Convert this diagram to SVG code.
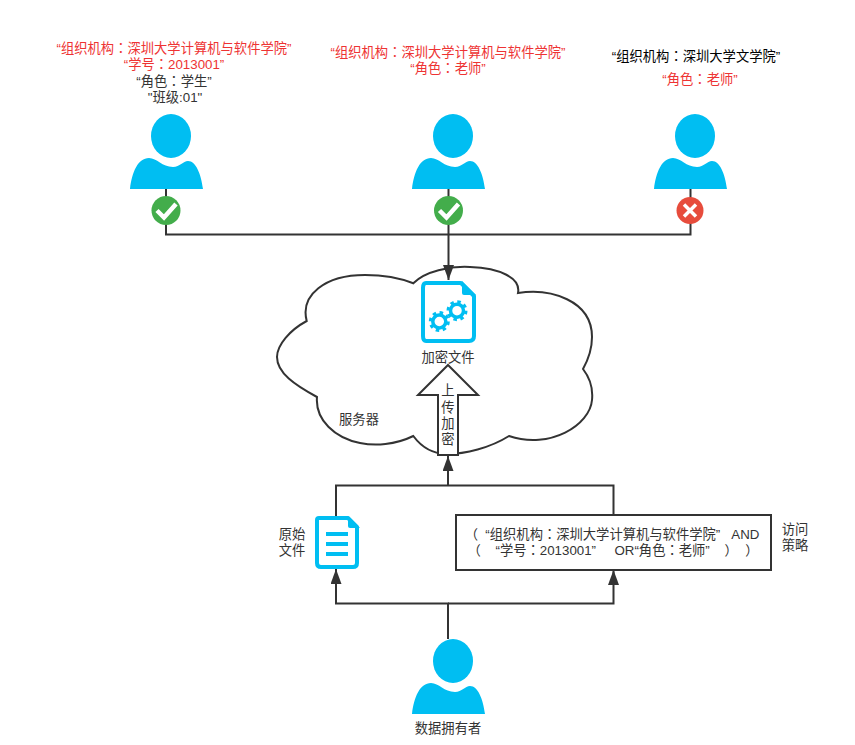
<svg xmlns="http://www.w3.org/2000/svg" width="855" height="745" viewBox="0 0 855 745">
<style>
text{font-family:"Liberation Sans","Noto Sans CJK TC",sans-serif;font-size:13.300px;fill:#333;text-anchor:middle;white-space:pre}
.red{fill:#ee3333}
.blk{fill:#000}
.line{fill:none;stroke:#333;stroke-width:2}
.doc{fill:#fff;stroke:#00bef2;stroke-width:4;stroke-linejoin:round}
.fold{fill:#00bef2}
.ic{fill:#00bef2}
.chk{fill:none;stroke:#fff;stroke-width:4.500}
</style>
<defs>
<g id="person">
<ellipse cx="41" cy="-53" rx="20" ry="22" class="ic"/>
<path class="ic" d="M0 0C2-17 8-31 19-31C27-31 32-22 43-22C50-22 53-28 58-28C66-28 71-15 73 0Z"/>
</g>
<marker id="ah" markerUnits="userSpaceOnUse" markerWidth="15" markerHeight="11" refX="15" refY="5.500" viewBox="0 0 15 11" orient="auto"><path d="M0 0L15 5.500L0 11Z" fill="#333"/></marker>
</defs>
<g id="cloud">
<path fill="#fff" stroke="#333" stroke-width="2" d="M306.700 321C300 295 325 275 365 275C385 275 400 278 413.300 283.300C425 271 450 266 470 267C500 268 521 278 518 293C550 288 592 300 592 337C592 350 588 360 583 369C590 378 593 390 592 400C590 425 550 450 509 436C490 448 465 454 447 454C430 454 420 445 413.300 436C395 445 375 446 360 443C335 438 315 420 317 397C295 385 277 373 277 357C277 345 290 330 306.700 321Z"/>
<text x="359" y="424">服务器</text>
</g>
<g id="connectors">
<path class="line" d="M166 189V234.500H690.500V189"/>
<path class="line" d="M448.500 189V280" marker-end="url(#ah)"/>
<path class="line" d="M336 516V485.500H613.500V516"/>
<path class="line" d="M448 485.500V456" marker-end="url(#ah)"/>
<path class="line" d="M448 639V603.500H336V569" marker-end="url(#ah)"/>
<path class="line" d="M448 603.500H613.500V570" marker-end="url(#ah)"/>
</g>
<g id="user-1"><use href="#person" x="130" y="189"/>
<text class="red" x="174" y="53">“组织机构：深圳大学计算机与软件学院”</text>
<text class="red" x="174" y="69">“学号：2013001”</text>
<text x="174" y="86">“角色：学生”</text>
<text x="175" y="102">"班级:01"</text>
</g>
<g id="check-1"><circle cx="166" cy="210.500" r="14.500" fill="#43ad4b"/><path class="chk" d="M157 210.500L164 217.500L176 204"/></g>
<g id="user-2"><use href="#person" x="412" y="189"/>
<text class="red" x="448" y="57">“组织机构：深圳大学计算机与软件学院”</text>
<text class="red" x="448" y="73">“角色：老师”</text>
</g>
<g id="check-2"><circle cx="448.500" cy="210.500" r="14.500" fill="#43ad4b"/><path class="chk" d="M439.500 210.500L446.500 217.500L458.500 204"/></g>
<g id="user-3"><use href="#person" x="654" y="189"/>
<text class="blk" x="696" y="61">“组织机构：深圳大学文学院”</text>
<text class="red" x="700" y="84">“角色：老师”</text>
</g>
<g id="cross-3"><circle cx="690" cy="210.500" r="13.500" fill="#e74c3c"/><path d="M684 204.500L696 216.500M696 204.500L684 216.500" stroke="#fff" stroke-width="3.500" fill="none"/></g>
<g id="encrypted-file">
<path class="doc" d="M426 283H461L474 296V336Q474 341 469 341H426Q423 341 423 336V288Q423 283 426 283Z"/>
<path class="fold" d="M462 281L476 295H464Q462 295 462 293Z"/>
<g fill="none" stroke="#00bef2">
<circle cx="439.300" cy="321.500" r="6.500" stroke-width="3.500"/>
<circle cx="439.300" cy="321.500" r="9" stroke-width="3" stroke-dasharray="3.500 3.570"/>
<circle cx="457" cy="310.700" r="6.500" stroke-width="3.500"/>
<circle cx="457" cy="310.700" r="9" stroke-width="3" stroke-dasharray="3.500 3.570"/>
</g>
<text x="448" y="362">加密文件</text>
</g>
<g id="upload-arrow">
<path fill="#fff" stroke="#333" stroke-width="2" d="M448 365L478 395H458V455H438V395H418Z"/>
<text x="448" y="395">上</text><text x="448" y="412">传</text><text x="448" y="428">加</text><text x="448" y="444">密</text>
</g>
<g id="original-file">
<path class="doc" d="M319 518H348L357 527V563Q357 567 353 567H321Q317 567 317 563V520Q317 518 319 518Z"/>
<path class="fold" d="M348 516L360 528H350Q348 528 348 526Z"/>
<path d="M326 532H348V536H326ZM326 542H348V546H326ZM326 552H348V556H326Z" class="ic"/>
<text x="292" y="539">原始</text><text x="292" y="555">文件</text>
</g>
<g id="policy">
<rect x="456" y="515" width="315" height="55" fill="#fff" stroke="#333" stroke-width="2"/>
<text x="612" y="539">（  “组织机构：深圳大学计算机与软件学院”   AND</text>
<text x="613" y="555">（    “学号：2013001”     OR“角色：老师”    ）  ）</text>
<text x="795" y="534">访问</text><text x="795" y="550">策略</text>
</g>
<g id="owner"><use href="#person" x="412" y="714"/>
<text x="448" y="733">数据拥有者</text>
</g>
</svg>
